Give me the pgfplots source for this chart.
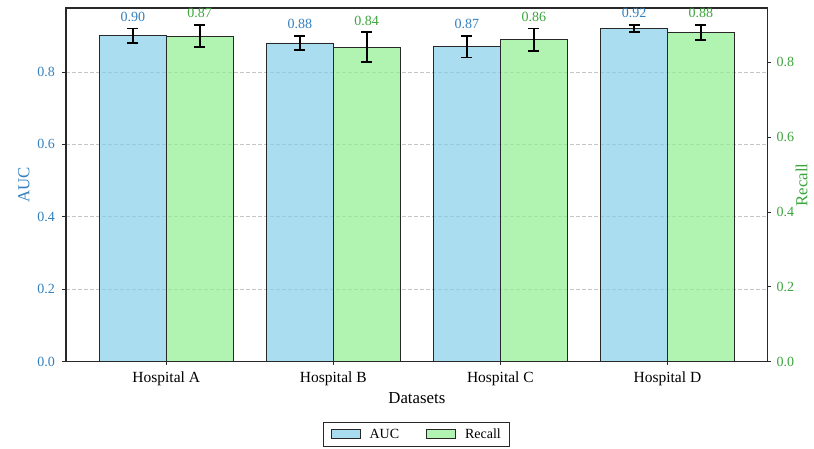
\documentclass[border=0pt]{standalone}
\usepackage{pgfplots}
\usepackage{pgfplotstable}
\pgfplotsset{compat=1.18}
\usepackage{fontspec}
\setmainfont{Liberation Serif}

\definecolor{aucfill}{HTML}{87CEEB}
\definecolor{recfill}{HTML}{90EE90}
\definecolor{auctext}{RGB}{52,128,190}
\definecolor{rectext}{RGB}{60,165,60}
\definecolor{edge}{RGB}{40,40,40}

% x: dataset index, value, standard deviation
\pgfplotstableread{
x auc aucerr
0 0.90 0.02
1 0.88 0.02
2 0.87 0.03
3 0.92 0.01
}\auctable
\pgfplotstableread{
x rec recerr
0 0.87 0.03
1 0.84 0.04
2 0.86 0.03
3 0.88 0.02
}\rectable

\pgfplotsset{
  barlegend/.style={legend image code/.code={\draw[##1] (0pt,-4.5pt) rectangle (29pt,4.5pt);}},
  common/.style={
    width=701.7pt, height=353.7pt, scale only axis,
    xmin=-0.6, xmax=3.6, ymin=0,
    clip=false,
    tick align=outside,
    major tick length=3.5pt,
    tick style={edge, line width=0.8pt},
    axis line style={edge, line width=1.2pt},
    ytick={0,0.2,0.4,0.6,0.8},
    yticklabel={\pgfmathprintnumber[fixed,fixed zerofill,precision=1]{\tick}},
    /pgf/number format/assume math mode=true,
    scaled y ticks=false,
    tick label style={font=\fontsize{14}{16}\selectfont},
  },
  bars/.style={
    ybar, bar width=0.4, bar shift=0pt,
    draw=edge, line width=0.9pt, fill opacity=0.7,
    error bars/y dir=both, error bars/y explicit,
    error bars/error bar style={line width=1.8pt, black, draw opacity=1},
    error bars/error mark options={rotate=90, mark size=5.5pt, line width=1.8pt, black},
  },
}

\begin{document}
\begin{tikzpicture}
\useasboundingbox (-66pt,-86.3pt) rectangle (748pt,361.7pt);

% AUC, left axis
\begin{axis}[
  common,
  ymax=0.9765,
  xtick={0,1,2,3},
  xticklabels={Hospital A,Hospital B,Hospital C,Hospital D},
  xticklabel style={font=\fontsize{15.5}{18}\selectfont, yshift=-3pt},
  xtick pos=bottom,
  ytick pos=left,
  yticklabel style={color=auctext, xshift=-4pt},
  ymajorgrids,
  major grid style={gray!45, line width=0.7pt, dash pattern=on 4pt off 2pt},
  xlabel={Datasets},
  every axis x label/.style={at={(axis description cs:0.5,-0.1035)}, anchor=center, font=\fontsize{16.8}{19}\selectfont},
  ylabel={AUC},
  every axis y label/.style={at={(axis description cs:-0.0599,0.5)}, rotate=90, anchor=center, font=\fontsize{16.8}{19}\selectfont, color=auctext},
]
% label sits above the error bar: shift = err * (pt per unit) + gap
\addplot[bars, fill=aucfill,
  visualization depends on={\thisrow{aucerr}*362.2+3 \as \lblshift},
  nodes near coords={\pgfmathprintnumber[fixed,fixed zerofill,precision=2]{\pgfplotspointmeta}},
  every node near coord/.append style={text opacity=1, fill opacity=1, color=auctext,
    font=\fontsize{14}{16}\selectfont, anchor=south, yshift=\lblshift pt},
] table[x expr=\thisrow{x}-0.2, y=auc, y error=aucerr] {\auctable};
\end{axis}

% Recall, right axis
\begin{axis}[
  common,
  ymax=0.945,
  axis x line=none,
  axis y line*=right,
  yticklabel style={color=rectext, xshift=2pt},
  ylabel={Recall},
  every axis y label/.style={at={(axis description cs:1.0485,0.5)}, rotate=90, anchor=center, font=\fontsize{16.8}{19}\selectfont, color=rectext},
  legend columns=2,
  legend style={at={(axis description cs:0.5,0)}, anchor=north, yshift=-60pt,
    draw=edge, line width=0.8pt, font=\fontsize{14}{16}\selectfont,
    /tikz/every odd column/.append style={column sep=7pt},
    /tikz/every even column/.append style={column sep=25pt},
    inner xsep=7pt, inner ysep=4.5pt},
]
\addlegendimage{barlegend, fill=aucfill, fill opacity=0.7, draw=edge, line width=0.8pt}
\addlegendentry{AUC}
\addplot[bars, fill=recfill, barlegend,
  visualization depends on={\thisrow{recerr}*374.3+3 \as \lblshift},
  nodes near coords={\pgfmathprintnumber[fixed,fixed zerofill,precision=2]{\pgfplotspointmeta}},
  every node near coord/.append style={text opacity=1, fill opacity=1, color=rectext,
    font=\fontsize{14}{16}\selectfont, anchor=south, yshift=\lblshift pt},
] table[x expr=\thisrow{x}+0.2, y=rec, y error=recerr] {\rectable};
\addlegendentry{Recall}
\end{axis}
\end{tikzpicture}
\end{document}
